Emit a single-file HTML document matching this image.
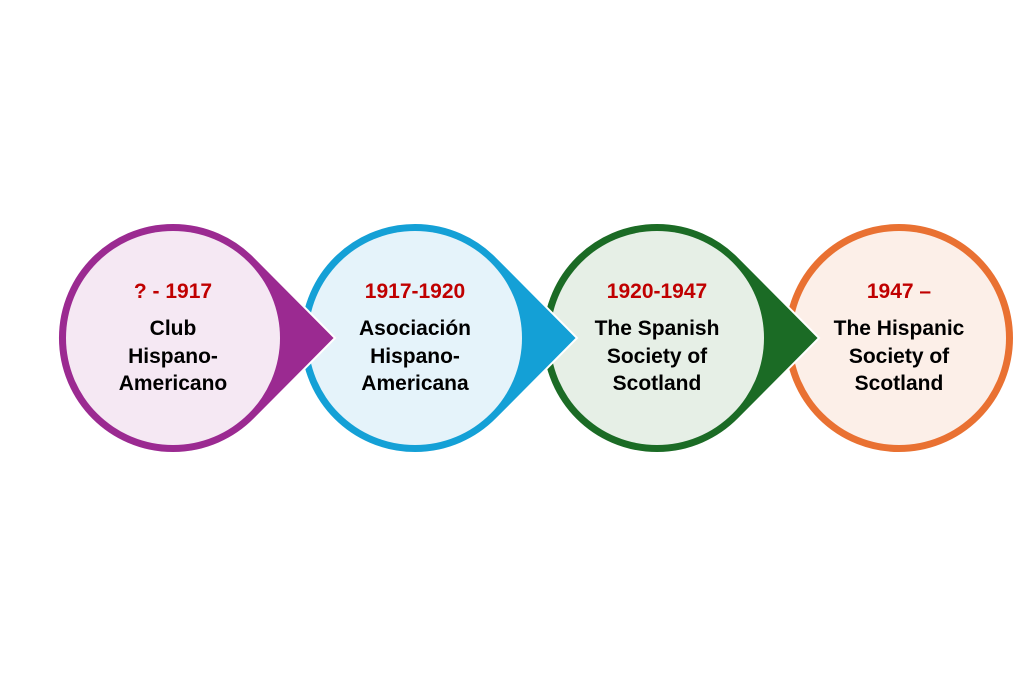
<!DOCTYPE html>
<html><head><meta charset="utf-8"><style>
html,body{margin:0;padding:0;background:#fff;}
svg text{font-family:"Liberation Sans",sans-serif;font-weight:bold;font-size:21px;text-anchor:middle;}
</style></head><body>
<svg width="1023" height="676" viewBox="0 0 1023 676" xmlns="http://www.w3.org/2000/svg">
<g stroke="#fff" stroke-width="2">
<circle cx="899" cy="338" r="115" fill="#E97132"/>
<circle cx="899" cy="338" r="107" fill="#FCEFE8" stroke="none"/>
<path d="M738.6 257 L819 338 L738.6 419 A115 115 0 1 1 738.6 257 Z" fill="#1B6B25"/>
<circle cx="657" cy="338" r="107" fill="#E6EFE6" stroke="none"/>
<path d="M496.6 257 L577 338 L496.6 419 A115 115 0 1 1 496.6 257 Z" fill="#14A0D6"/>
<circle cx="415" cy="338" r="107" fill="#E5F3FA" stroke="none"/>
<path d="M254.6 257 L335 338 L254.6 419 A115 115 0 1 1 254.6 257 Z" fill="#9B2A91"/>
<circle cx="173" cy="338" r="107" fill="#F5E8F3" stroke="none"/>
</g>
<g fill="#C00000">
<text x="173" y="298">? - 1917</text>
<text x="415" y="298">1917-1920</text>
<text x="657" y="298">1920-1947</text>
<text x="899" y="298">1947 –</text>
</g>
<g fill="#000">
<text x="173" y="335">Club</text>
<text x="173" y="363">Hispano-</text>
<text x="173" y="390">Americano</text>
<text x="415" y="335">Asociación</text>
<text x="415" y="363">Hispano-</text>
<text x="415" y="390">Americana</text>
<text x="657" y="335">The Spanish</text>
<text x="657" y="363">Society of</text>
<text x="657" y="390">Scotland</text>
<text x="899" y="335">The Hispanic</text>
<text x="899" y="363">Society of</text>
<text x="899" y="390">Scotland</text>
</g>
</svg>
</body></html>
